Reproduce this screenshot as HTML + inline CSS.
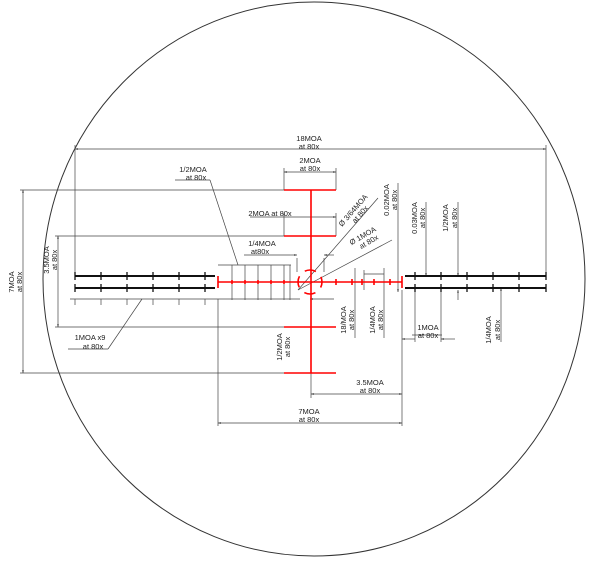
<!DOCTYPE html>
<html><head><meta charset="utf-8"><style>body{margin:0;background:#fff}svg{display:block}text{font-family:"Liberation Sans",sans-serif;font-size:7.5px;fill:#222}</style></head><body>
<svg width="600" height="561" viewBox="0 0 600 561" xmlns="http://www.w3.org/2000/svg">
<defs><marker id="a" viewBox="0 0 10 10" refX="10" refY="5" markerWidth="6" markerHeight="4" orient="auto-start-reverse"><path d="M0,2L10,5L0,8z" fill="#333"/></marker></defs>
<ellipse cx="314" cy="279" rx="271" ry="277" fill="none" stroke="#333" stroke-width="1"/>
<g stroke="#444" stroke-width="0.7" fill="none">
<line x1="75" y1="145" x2="75" y2="276"/><line x1="546" y1="145" x2="546" y2="276"/>
<line x1="75" y1="149" x2="546" y2="149" marker-start="url(#a)" marker-end="url(#a)"/>
<line x1="284" y1="168" x2="284" y2="190"/><line x1="336" y1="168" x2="336" y2="190"/>
<line x1="284" y1="172" x2="336" y2="172" marker-start="url(#a)" marker-end="url(#a)"/>
<line x1="284" y1="213" x2="284" y2="236"/><line x1="336" y1="213" x2="336" y2="236"/>
<line x1="250" y1="217" x2="336" y2="217" marker-end="url(#a)"/>
<line x1="20" y1="190" x2="284" y2="190"/><line x1="20" y1="373" x2="284" y2="373"/>
<line x1="23" y1="190" x2="23" y2="373" marker-start="url(#a)" marker-end="url(#a)"/>
<line x1="55" y1="236" x2="284" y2="236"/><line x1="55" y1="327" x2="284" y2="327"/>
<line x1="58" y1="236" x2="58" y2="327" marker-start="url(#a)" marker-end="url(#a)"/>
<line x1="70" y1="299" x2="300" y2="299"/>
<path d="M75 299v6M101 299v6M127 299v6M153 299v6M179 299v6M205 299v6"/>
<line x1="218" y1="299" x2="218" y2="426"/>
<line x1="218" y1="423" x2="402" y2="423" marker-start="url(#a)" marker-end="url(#a)"/>
<line x1="311" y1="373" x2="311" y2="398"/>
<line x1="311" y1="394" x2="402" y2="394" marker-start="url(#a)" marker-end="url(#a)"/>
<line x1="402" y1="290" x2="402" y2="426"/>
<line x1="415" y1="290" x2="415" y2="342"/><line x1="441" y1="290" x2="441" y2="342"/>
<line x1="402" y1="339" x2="415" y2="339" marker-start="url(#a)"/>
<line x1="441" y1="339" x2="455" y2="339" marker-start="url(#a)"/>
<line x1="412" y1="335" x2="442" y2="335"/>
<line x1="232" y1="265" x2="232" y2="300"/><line x1="245" y1="265" x2="245" y2="300"/><line x1="258" y1="265" x2="258" y2="300"/><line x1="271" y1="265" x2="271" y2="300"/><line x1="284" y1="265" x2="284" y2="300"/>
<line x1="218" y1="265" x2="291" y2="265"/>
<line x1="244" y1="255" x2="290" y2="255"/>
<line x1="297" y1="258" x2="297" y2="272"/><line x1="324" y1="258" x2="324" y2="272"/>
<line x1="290" y1="255" x2="297" y2="255" marker-end="url(#a)"/><line x1="334" y1="255" x2="324" y2="255" marker-end="url(#a)"/>
<line x1="310" y1="299" x2="334" y2="299" marker-start="url(#a)"/>
<line x1="290" y1="265" x2="290" y2="300"/>
<line x1="398" y1="183" x2="398" y2="292" marker-end="url(#a)"/>
<line x1="426" y1="202" x2="426" y2="276" marker-end="url(#a)"/>
<line x1="458" y1="202" x2="458" y2="276" marker-end="url(#a)"/>
<line x1="458" y1="300" x2="458" y2="290" marker-end="url(#a)"/>
<line x1="501" y1="342" x2="501" y2="288" marker-end="url(#a)"/>
<line x1="355" y1="268" x2="355" y2="338"/><line x1="384" y1="268" x2="384" y2="338"/><line x1="364" y1="270" x2="364" y2="290"/>
<line x1="364" y1="274" x2="384" y2="274"/>
<line x1="298" y1="290" x2="378" y2="198"/><line x1="298" y1="290" x2="392" y2="240"/>
<line x1="175" y1="180" x2="210" y2="180"/><line x1="210" y1="180" x2="238" y2="265"/>
<line x1="68" y1="349" x2="108" y2="349"/><line x1="108" y1="349" x2="142" y2="299"/>
</g>
<g stroke="#111" stroke-width="2">
<line x1="75" y1="276" x2="215" y2="276"/><line x1="75" y1="288" x2="215" y2="288"/>
<line x1="405" y1="276" x2="546" y2="276"/><line x1="405" y1="288" x2="546" y2="288"/>
</g>
<g stroke="#111" stroke-width="1.3">
<path d="M75 272v8M101 272v8M127 272v8M153 272v8M179 272v8M205 272v8M75 284v8M101 284v8M127 284v8M153 284v8M179 284v8M205 284v8"/>
<path d="M415 272v8M441 272v8M467 272v8M493 272v8M519 272v8M546 272v8M415 284v8M441 284v8M467 284v8M493 284v8M519 284v8M546 284v8"/>
</g>
<g stroke="#f00" stroke-width="1.6" fill="none">
<line x1="311" y1="190" x2="311" y2="373"/>
<line x1="218" y1="282" x2="402" y2="282"/>
<line x1="284" y1="190" x2="336" y2="190"/><line x1="284" y1="236" x2="336" y2="236"/>
<line x1="284" y1="327" x2="336" y2="327"/><line x1="284" y1="373" x2="336" y2="373"/>
<path d="M218 276v12M402 276v12M232 280v4M245 280v4M258 280v4M271 280v4M284 280v4M336 279v6M352 279v6M362 279v6M374 279v6M390 279v6"/>
<circle cx="310" cy="282" r="12" stroke-dasharray="11.5 7.35" stroke-dashoffset="5.75"/>
</g>
<g text-anchor="middle">
<text x="309" y="141">18MOA</text><text x="309" y="149">at 80x</text>
<text x="310" y="163">2MOA</text><text x="310" y="171">at 80x</text>
<text x="270" y="216">2MOA at 80x</text>
<text x="193" y="172">1/2MOA</text><text x="196" y="180">at 80x</text>
<text x="262" y="246">1/4MOA</text><text x="260" y="254">at80x</text>
<text x="90" y="340">1MOA x9</text><text x="93" y="349">at 80x</text>
<text x="309" y="414">7MOA</text><text x="309" y="422">at 80x</text>
<text x="370" y="385">3.5MOA</text><text x="370" y="393">at 80x</text>
<text x="428" y="330">1MOA</text><text x="428" y="338">at 80x</text>
<text transform="translate(14,282) rotate(-90)">7MOA</text><text transform="translate(22,282) rotate(-90)">at 80x</text>
<text transform="translate(49,260) rotate(-90)">3.5MOA</text><text transform="translate(57,260) rotate(-90)">at 80x</text>
<text transform="translate(282,347) rotate(-90)">1/2MOA</text><text transform="translate(290,347) rotate(-90)">at 80x</text>
<text transform="translate(346,320) rotate(-90)">18/MOA</text><text transform="translate(354,320) rotate(-90)">at 80x</text>
<text transform="translate(375,320) rotate(-90)">1/4MOA</text><text transform="translate(383,320) rotate(-90)">at 80x</text>
<text transform="translate(389,200) rotate(-90)">0.02MOA</text><text transform="translate(397,200) rotate(-90)">at 80x</text>
<text transform="translate(417,218) rotate(-90)">0.03MOA</text><text transform="translate(425,218) rotate(-90)">at 80x</text>
<text transform="translate(448,218) rotate(-90)">1/2MOA</text><text transform="translate(457,218) rotate(-90)">at 80x</text>
<text transform="translate(491,330) rotate(-90)">1/4MOA</text><text transform="translate(500,330) rotate(-90)">at 80x</text>
<text transform="translate(355,212) rotate(-49)">Ø 3/64MOA</text><text transform="translate(362,216) rotate(-49)">at 80x</text>
<text transform="translate(364,238) rotate(-30)">Ø 1MOA</text><text transform="translate(370,244) rotate(-30)">at 80x</text>
</g>
</svg>
</body></html>
